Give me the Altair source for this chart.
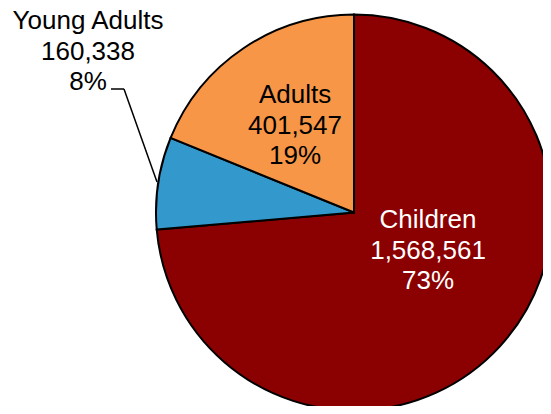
import altair as alt
import pandas as pd

categories = ["Children", "Young Adults", "Adults"]
values = [1568561, 160338, 401547]
percent_labels = ["73%", "8%", "19%"]
colors = ["#8B0000", "#3399CC", "#F79646"]

df = pd.DataFrame({
    "category": categories,
    "value": values,
    "pct": percent_labels,
    "rank": list(range(len(categories))),
})
df["label"] = [f"{c}\n{v:,}\n{p}" for c, v, p in zip(categories, values, percent_labels)]

CX, CY, R = 346, 204.5, 198

pie = alt.Chart(df).mark_arc(radius=R, stroke="black", strokeWidth=2).encode(
    theta=alt.Theta("value:Q", stack=True),
    color=alt.Color("category:N", scale=alt.Scale(domain=categories, range=colors), legend=None),
    order=alt.Order("rank:Q"),
    x=alt.value(CX),
    y=alt.value(CY),
)

label_pos = {"Children": (420, 212, "white"), "Young Adults": (80, 13, "black"), "Adults": (287, 87, "black")}

layers = [pie]
for cat, (lx, ly, col) in label_pos.items():
    layers.append(
        alt.Chart(df).transform_filter(alt.datum.category == cat).mark_text(
            font="Liberation Sans", fontSize=26, lineBreak="\n", lineHeight=30.5,
            align="center", baseline="middle", color=col,
        ).encode(text="label:N", x=alt.value(lx), y=alt.value(ly))
    )

leader1 = alt.Chart(df).transform_filter(alt.datum.category == "Young Adults").mark_rule(
    color="black", strokeWidth=1.5
).encode(x=alt.value(103), x2=alt.value(116), y=alt.value(81), y2=alt.value(81))
leader2 = alt.Chart(df).transform_filter(alt.datum.category == "Young Adults").mark_rule(
    color="black", strokeWidth=1.5
).encode(x=alt.value(116), x2=alt.value(149), y=alt.value(81), y2=alt.value(174))
layers += [leader1, leader2]

chart = alt.layer(*layers).properties(
    width=535, height=398, padding=0, autosize=alt.AutoSizeParams(type="none")
).configure_view(stroke=None)

chart.save("out.html", embed_options={"renderer": "svg", "actions": False})
